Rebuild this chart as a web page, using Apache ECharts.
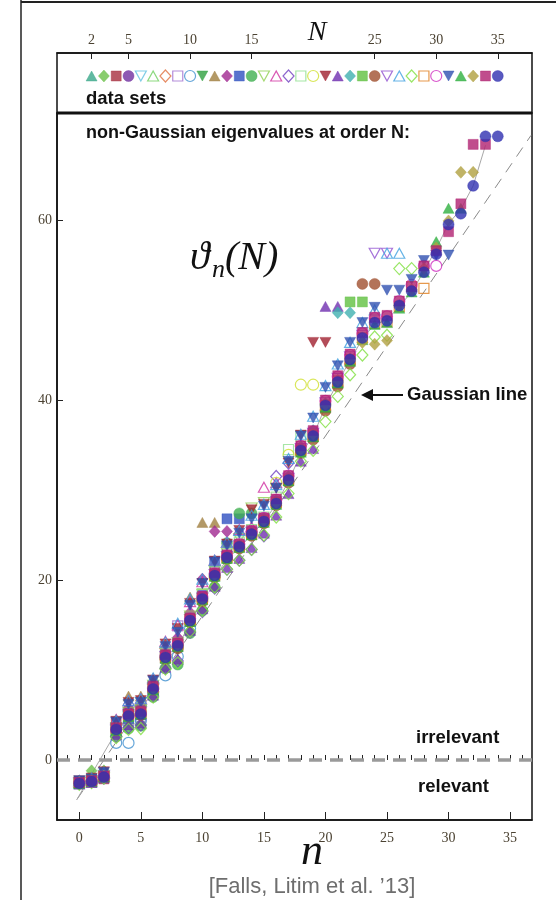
<!DOCTYPE html>
<html>
<head>
<meta charset="utf-8">
<script src="https://cdn.jsdelivr.net/npm/echarts@6/dist/echarts.min.js"></script>
<style>
html, body { margin: 0; padding: 0; background: #fff; }
#chart { width: 556px; height: 900px; }
</style>
</head>
<body>
<div id="chart"></div>
<script>
// data sets N = 2..35, marker code: T/V filled up/down triangle, t/v open, D/d diamond, S/s square, C/c circle
var setN = [2,3,4,5,6,7,8,9,10,11,12,13,14,15,16,17,18,19,20,21,22,23,24,25,26,27,28,29,30,31,32,33,34,35];
var setShape = ['T','D','S','C','v','t','d','s','c','V',
                'T','D','S','C','v','t','d','s','c','V',
                'T','D','S','C','v','t','d','s','c','V',
                'T','D','S','C'];
var setColor = ['#3aa88a','#6cc04a','#a83040','#7030a0','#60c0e0','#70d060','#e07040','#a070d0','#4090d0','#30a040',
                '#a08040','#a02890','#3050c0','#40b050','#90d050','#d030a0','#7040c0','#90e090','#d0e030','#a02030',
                '#7030b0','#40b0b0','#60c040','#a05030','#9050d0','#40a0e0','#80e040','#e08020','#d030c0','#3050b0',
                '#30b040','#b0a040','#b02070','#3030b0'];

// eigenvalues theta_n for n = 0..N-1, one list per data set
var theta = [
  [-2.6, -2.4],
  [-2.4, -1.2, -1.2],
  [-2.5, -2.2, -2.1, 4.2],
  [-2.4, -2.3, -1.5, 3.8, 5.6],
  [-2.6, -2.4, -1.7, 3.3, 4.8, 6.4],
  [-2.5, -2.2, -1.8, 3.2, 4.6, 6.5, 8.6],
  [-2.4, -2.3, -1.9, 3.5, 5.0, 5.4, 7.6, 12.4],
  [-2.6, -2.5, -1.8, 3.3, 4.4, 4.8, 8.0, 11.6, 14.9],
  [-2.5, -2.4, -1.9, 1.9, 1.9, 4.4, 7.5, 9.4, 11.5, 14.6],
  [-2.4, -2.2, -1.8, 3.6, 5.1, 5.5, 8.2, 11.0, 12.2, 15.8, 18.0],
  [-2.3, -2.1, -1.6, 4.5, 7.1, 7.1, 8.6, 11.9, 13.4, 18.1, 26.4, 26.4],
  [-2.5, -2.3, -1.7, 3.9, 5.7, 6.0, 8.4, 12.4, 13.6, 16.4, 20.1, 25.4, 25.4],
  [-2.6, -2.4, -1.9, 3.4, 4.6, 5.0, 7.8, 11.3, 12.6, 15.4, 18.3, 22.0, 26.8, 26.8],
  [-2.6, -2.4, -1.9, 2.6, 3.5, 3.8, 7.0, 10.2, 10.6, 14.1, 16.6, 19.2, 24.1, 27.4, 27.4],
  [-2.7, -2.5, -2.0, 3.6, 5.3, 5.6, 8.3, 12.0, 13.0, 16.0, 18.4, 21.0, 23.0, 24.6, 28.0, 28.6],
  [-2.3, -2.0, -1.4, 4.5, 6.6, 6.8, 9.0, 13.2, 15.0, 17.6, 19.8, 22.2, 24.2, 25.6, 25.9, 30.3, 30.8],
  [-2.6, -2.4, -2.0, 2.6, 3.6, 3.9, 7.1, 10.2, 11.0, 14.2, 16.5, 19.1, 21.2, 22.2, 23.4, 24.9, 31.5, 33.0],
  [-2.6, -2.4, -1.8, 3.4, 4.9, 5.3, 8.1, 11.8, 12.9, 15.8, 18.5, 20.9, 22.9, 24.2, 25.6, 27.0, 29.2, 34.5, 36.0],
  [-2.5, -2.3, -1.8, 3.5, 5.0, 5.2, 7.9, 11.4, 12.7, 15.3, 17.8, 20.4, 22.4, 23.6, 25.0, 26.4, 30.8, 33.9, 41.7, 41.7],
  [-2.3, -2.0, -1.3, 4.3, 6.4, 6.6, 8.9, 12.9, 14.6, 17.4, 19.6, 22.1, 24.0, 25.5, 27.8, 28.4, 30.2, 33.0, 36.1, 46.4, 46.4],
  [-2.7, -2.5, -2.0, 2.8, 3.9, 4.1, 7.2, 10.3, 11.2, 14.4, 16.8, 19.3, 21.4, 22.4, 23.6, 25.2, 27.2, 29.6, 33.2, 34.6, 50.4, 50.4],
  [-2.5, -2.3, -1.7, 3.6, 5.1, 5.3, 8.0, 11.6, 12.9, 15.7, 18.1, 20.7, 22.7, 23.9, 25.4, 26.9, 28.9, 31.5, 34.8, 36.6, 39.6, 49.7, 49.7],
  [-2.5, -2.2, -1.8, 3.4, 4.9, 5.1, 7.9, 11.3, 12.6, 15.5, 17.9, 20.5, 22.4, 23.7, 25.1, 26.5, 28.5, 31.1, 34.3, 35.9, 39.1, 41.8, 50.9, 50.9],
  [-2.6, -2.4, -1.9, 3.3, 4.8, 5.0, 7.8, 11.2, 12.4, 15.3, 17.6, 20.3, 22.3, 23.5, 24.9, 26.3, 28.3, 30.8, 34.1, 35.6, 38.8, 41.5, 44.0, 52.9, 52.9],
  [-2.5, -2.3, -1.8, 3.5, 5.0, 5.3, 8.0, 11.5, 12.8, 15.6, 18.0, 20.6, 22.6, 23.8, 25.3, 26.7, 28.7, 31.3, 34.6, 36.3, 39.7, 42.4, 44.8, 47.2, 56.3, 56.3],
  [-2.3, -2.0, -1.4, 4.4, 6.6, 6.8, 9.1, 13.1, 15.2, 17.9, 20.1, 22.2, 24.2, 25.5, 27.2, 28.4, 30.6, 33.5, 36.2, 38.2, 41.6, 44.0, 46.4, 48.6, 50.0, 56.3, 56.3],
  [-2.7, -2.5, -2.0, 2.5, 3.4, 3.5, 7.0, 10.1, 10.8, 14.3, 16.6, 19.2, 21.2, 22.2, 23.4, 25.0, 27.0, 29.6, 33.2, 34.4, 37.6, 40.4, 42.8, 45.0, 47.0, 47.2, 54.6, 54.6],
  [-2.5, -2.3, -1.8, 3.5, 5.0, 5.2, 8.0, 11.4, 12.8, 15.6, 17.9, 20.5, 22.5, 23.7, 25.1, 26.6, 28.6, 31.1, 34.4, 36.1, 39.4, 42.1, 44.5, 46.9, 48.5, 48.7, 50.4, 52.6, 52.4],
  [-2.5, -2.4, -1.8, 3.4, 4.9, 5.2, 7.9, 11.5, 12.9, 15.7, 18.1, 20.7, 22.7, 24.0, 25.4, 26.9, 28.9, 31.6, 34.9, 36.5, 39.9, 42.6, 45.0, 47.4, 49.1, 49.3, 51.0, 52.8, 54.9, 54.9],
  [-2.3, -2.1, -1.4, 4.2, 6.2, 6.4, 8.8, 12.6, 14.2, 17.2, 19.6, 22.0, 23.8, 25.2, 26.8, 28.2, 30.2, 33.2, 36.0, 38.0, 41.4, 43.8, 46.4, 48.6, 50.3, 52.2, 52.2, 53.4, 55.5, 56.1, 56.1],
  [-2.6, -2.4, -1.9, 3.3, 4.8, 5.1, 7.8, 11.3, 12.6, 15.4, 17.8, 20.4, 22.4, 23.6, 25.0, 26.4, 28.4, 31.0, 34.2, 35.9, 39.2, 41.9, 44.3, 46.7, 48.4, 48.6, 50.2, 52.0, 54.2, 57.6, 61.3, 61.3],
  [-2.5, -2.3, -1.8, 3.5, 5.0, 5.3, 8.0, 11.5, 12.8, 15.5, 17.9, 20.6, 22.6, 23.8, 25.2, 26.6, 28.6, 31.2, 34.5, 36.2, 39.5, 42.2, 44.6, 46.4, 46.2, 46.6, 50.5, 52.3, 54.6, 56.9, 59.9, 65.3, 65.3],
  [-2.5, -2.3, -1.8, 3.6, 5.1, 5.4, 8.2, 11.7, 13.0, 15.8, 18.2, 20.8, 22.8, 24.0, 25.5, 26.9, 29.0, 31.6, 34.9, 36.6, 40.0, 42.7, 45.1, 47.5, 49.2, 49.4, 51.0, 52.6, 54.9, 56.6, 58.7, 61.8, 68.4, 68.4],
  [-2.6, -2.4, -1.9, 3.4, 4.9, 5.1, 7.9, 11.4, 12.7, 15.5, 17.9, 20.5, 22.5, 23.7, 25.1, 26.5, 28.5, 31.1, 34.4, 36.0, 39.4, 42.0, 44.5, 46.9, 48.6, 48.8, 50.5, 52.1, 54.2, 56.2, 59.5, 60.7, 63.8, 69.3, 69.3]
];

// thin grey curve through the data
var trendN = [-0.2, 2.6, 3, 4, 5, 6, 7, 8, 9, 10, 11, 12, 13, 14, 15, 16, 17, 18, 19, 20, 21, 22, 23, 24, 25, 26, 27, 28, 29, 30, 31, 32, 33];
var trendTheta = [-4.4, 2.2, 3.0, 5.0, 5.3, 8.0, 11.0, 12.5, 15.3, 17.8, 20.3, 22.3, 23.6, 25.0, 26.5, 28.4, 31.0, 34.0, 36.0, 39.3, 42.0, 44.4, 46.8, 48.4, 48.9, 50.4, 52.0, 54.3, 56.8, 59.6, 61.2, 63.8, 68.3];
// dashed Gaussian line end points
var gaussN = [-0.2, 36.7];
var gaussTheta = [-4.4, 69.4];

var nTicksMajor = [0, 5, 10, 15, 20, 25, 30, 35];
var nTicksMinor = [-1,0,1,2,3,4,5,6,7,8,9,10,11,12,13,14,15,16,17,18,19,20,21,22,23,24,25,26,27,28,29,30,31,32,33,34,35,36];
var NTicks = [2, 5, 10, 15, 25, 30, 35];
var thetaTicks = [0, 20, 40, 60];

var serif = '"Liberation Serif", "DejaVu Serif", serif';
var sans = '"Liberation Sans", Arial, sans-serif';
var labelColor = '#4b4232';

var shapeMap = {
  T: ['triangle', 0, false], V: ['triangle', 180, false],
  t: ['triangle', 0, true],  v: ['triangle', 180, true],
  D: ['diamond', 0, false],  d: ['diamond', 0, true],
  S: ['rect', 0, false],     s: ['rect', 0, true],
  C: ['circle', 0, false],   c: ['circle', 0, true]
};
var sizeMap = { triangle: [11, 10], diamond: [11, 12], rect: [10, 10], circle: [11, 11] };

function markerStyle(i) {
  var sh = shapeMap[setShape[i]];
  var style = sh[2]
    ? { color: 'rgba(255,255,255,0)', borderColor: setColor[i], borderWidth: 1.2 }
    : { color: setColor[i], borderColor: setColor[i], borderWidth: 0.5 };
  return { symbol: sh[0], symbolRotate: sh[1], symbolSize: sizeMap[sh[0]], itemStyle: style };
}

var myChart = echarts.init(document.getElementById('chart'), null, { renderer: 'canvas' });

var series = [];
series.push({
  type: 'line', xAxisIndex: 0, yAxisIndex: 0, silent: true, symbol: 'none', z: 1,
  data: gaussN.map(function (n, i) { return [n, gaussTheta[i]]; }),
  lineStyle: { color: '#8a8a8a', width: 1, type: [11, 8] }
});
series.push({
  type: 'line', xAxisIndex: 0, yAxisIndex: 0, silent: true, symbol: 'none', z: 1,
  data: [[-1.81, 0], [36.78, 0]],
  lineStyle: { color: '#9a9a9a', width: 3.5, type: [13, 8] }
});
series.push({
  type: 'line', xAxisIndex: 0, yAxisIndex: 0, silent: true, symbol: 'none', z: 1,
  data: trendN.map(function (n, i) { return [n, trendTheta[i]]; }),
  lineStyle: { color: '#a8a8a8', width: 1 }
});

theta.forEach(function (vals, i) {
  var m = markerStyle(i);
  series.push({
    type: 'scatter', xAxisIndex: 0, yAxisIndex: 0, z: 3, silent: true,
    name: 'N=' + setN[i],
    symbol: m.symbol, symbolRotate: m.symbolRotate, symbolSize: m.symbolSize,
    itemStyle: m.itemStyle,
    data: vals.map(function (v, n) { return [n, v]; })
  });
});

// marker row of the "data sets" box
series.push({
  type: 'scatter', xAxisIndex: 2, yAxisIndex: 1, z: 3, silent: true,
  data: setN.map(function (N, i) {
    var m = markerStyle(i);
    return { value: [N, 37], symbol: m.symbol, symbolRotate: m.symbolRotate, symbolSize: m.symbolSize, itemStyle: m.itemStyle };
  })
});

option = {
  backgroundColor: '#fff',
  animation: false,
  grid: [
    { left: 57, right: 24, top: 113, bottom: 80, show: true, borderColor: '#111', borderWidth: 1.5, backgroundColor: 'rgba(0,0,0,0)' },
    { left: 57, right: 24, top: 53, height: 60, show: true, borderColor: '#111', borderWidth: 1.5, backgroundColor: 'rgba(0,0,0,0)' }
  ],
  xAxis: [
    {
      gridIndex: 0, type: 'value', position: 'bottom', min: -1.81, max: 36.78,
      axisLine: { show: true, onZero: false, lineStyle: { color: '#111', width: 1.5 } },
      axisTick: { show: true, inside: true, length: 8, customValues: nTicksMajor, lineStyle: { color: '#222' } },
      axisLabel: { customValues: nTicksMajor, fontFamily: serif, fontSize: 14, color: labelColor, margin: 11 },
      splitLine: { show: false }
    },
    {
      gridIndex: 0, type: 'value', position: 'bottom', min: -1.81, max: 36.78,
      axisLine: { show: false },
      axisTick: { show: true, inside: true, length: 5, customValues: nTicksMinor, lineStyle: { color: '#222' } },
      axisLabel: { show: false },
      splitLine: { show: false }
    },
    {
      gridIndex: 1, type: 'value', position: 'top', min: -0.81, max: 37.78,
      axisLine: { show: true, onZero: false, lineStyle: { color: '#111', width: 1.5 } },
      axisTick: { show: true, inside: true, length: 6, customValues: NTicks, lineStyle: { color: '#222' } },
      axisLabel: { customValues: NTicks, fontFamily: serif, fontSize: 14, color: labelColor, margin: 6 },
      splitLine: { show: false }
    }
  ],
  yAxis: [
    {
      gridIndex: 0, type: 'value', min: -6.667, max: 71.889,
      axisLine: { show: true, onZero: false, lineStyle: { color: '#111', width: 1.5 } },
      axisTick: { show: true, inside: true, length: 6, customValues: thetaTicks, lineStyle: { color: '#222' } },
      axisLabel: { customValues: thetaTicks, fontFamily: serif, fontSize: 14, color: labelColor, margin: 5 },
      splitLine: { show: false }
    },
    { gridIndex: 1, type: 'value', min: 0, max: 60, show: false }
  ],
  graphic: [
    { type: 'line', z: 10, shape: { x1: 21, y1: 0, x2: 21, y2: 900 }, style: { stroke: '#222', lineWidth: 1.5 } },
    { type: 'line', z: 10, shape: { x1: 21, y1: 2, x2: 556, y2: 2 }, style: { stroke: '#222', lineWidth: 2 } },
    { type: 'line', z: 10, shape: { x1: 57, y1: 113, x2: 532, y2: 113 }, style: { stroke: '#111', lineWidth: 3 } },
    { type: 'text', x: 317, y: 33, style: { text: 'N', font: 'italic 28px ' + serif, fill: '#111', textAlign: 'center', textVerticalAlign: 'middle' } },
    { type: 'text', x: 86, y: 99, style: { text: 'data sets', font: 'bold 18.5px ' + sans, fill: '#111', textVerticalAlign: 'middle' } },
    { type: 'text', x: 86, y: 133, style: { text: 'non-Gaussian eigenvalues at order N:', font: 'bold 18px ' + sans, fill: '#111', textVerticalAlign: 'middle' } },
    { type: 'text', x: 190, y: 258, style: { text: '\u03d1', font: 'italic 40px ' + serif, fill: '#111', textVerticalAlign: 'middle' } },
    { type: 'text', x: 212, y: 270, style: { text: 'n', font: 'italic 26px ' + serif, fill: '#111', textVerticalAlign: 'middle' } },
    { type: 'text', x: 225, y: 258, style: { text: '(N)', font: 'italic 40px ' + serif, fill: '#111', textVerticalAlign: 'middle' } },
    { type: 'text', x: 407, y: 395, style: { text: 'Gaussian line', font: 'bold 18.5px ' + sans, fill: '#111', textVerticalAlign: 'middle' } },
    { type: 'line', z: 10, shape: { x1: 403, y1: 395, x2: 368, y2: 395 }, style: { stroke: '#111', lineWidth: 2 } },
    { type: 'polygon', z: 10, shape: { points: [[361, 395], [373, 389], [373, 401]] }, style: { fill: '#111' } },
    { type: 'text', x: 416, y: 738, style: { text: 'irrelevant', font: 'bold 18.5px ' + sans, fill: '#111', textVerticalAlign: 'middle' } },
    { type: 'text', x: 418, y: 787, style: { text: 'relevant', font: 'bold 18.5px ' + sans, fill: '#111', textVerticalAlign: 'middle' } },
    { type: 'text', x: 312, y: 852, style: { text: 'n', font: 'italic 44px ' + serif, fill: '#111', textAlign: 'center', textVerticalAlign: 'middle' } },
    { type: 'text', x: 312, y: 887, style: { text: '[Falls, Litim et al. \u201913]', font: '22px ' + sans, fill: '#6e6e6e', textAlign: 'center', textVerticalAlign: 'middle' } }
  ],
  series: series
};
myChart.setOption(option);
</script>
</body>
</html>
